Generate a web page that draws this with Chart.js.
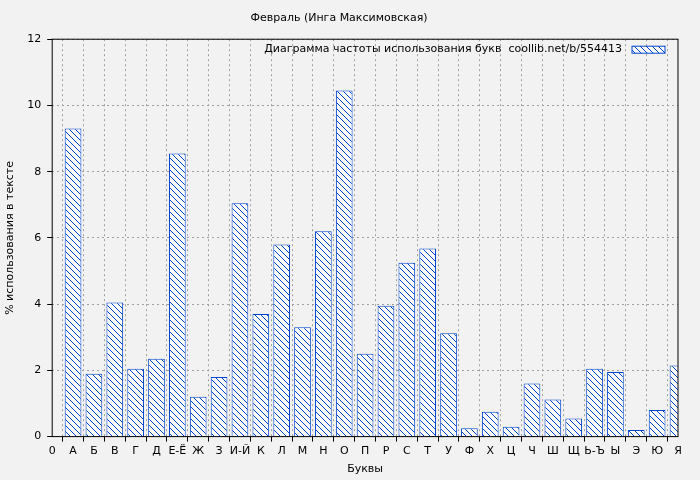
<!DOCTYPE html>
<html>
<head>
<meta charset="utf-8">
<script src="https://cdn.jsdelivr.net/npm/chart.js@4"></script>
<style>
body { margin: 0; background: #f2f2f2; }
#wrap { width: 700px; height: 480px; }
</style>
</head>
<body>
<div id="wrap"><canvas id="chart"></canvas></div>
<script>
const letters = ["0", "А", "Б", "В", "Г", "Д", "Е-Ё", "Ж", "З", "И-Й", "К", "Л", "М", "Н", "О", "П", "Р", "С", "Т", "У", "Ф", "Х", "Ц", "Ч", "Ш", "Щ", "Ь-Ъ", "Ы", "Э", "Ю", "Я"];
const percents = [null, 9.3, 1.9, 4.05, 2.05, 2.35, 8.55, 1.2, 1.8, 7.05, 3.7, 5.8, 3.3, 6.2, 10.45, 2.5, 3.95, 5.25, 5.68, 3.12, 0.25, 0.75, 0.3, 1.6, 1.12, 0.55, 2.05, 1.95, 0.2, 0.8, 2.15];
const yTicks = [0, 2, 4, 6, 8, 10, 12];
const legendText = "Диаграмма частоты использования букв  coollib.net/b/554413";

const FONT = "'DejaVu Sans', sans-serif";
const BLUE = "#0044cc";

// штриховка
function makeHatch() {
    const c = document.createElement("canvas");
    c.width = 6; c.height = 6;
    const g = c.getContext("2d");
    g.fillStyle = "#ffffff";
    g.fillRect(0, 0, 6, 6);
    g.strokeStyle = BLUE;
    g.lineWidth = 1;
    g.beginPath();
    g.moveTo(0, 0); g.lineTo(6, 6);
    g.moveTo(-3, 3); g.lineTo(3, 9);
    g.moveTo(3, -3); g.lineTo(9, 3);
    g.stroke();
    return g.createPattern(c, "repeat");
}
const hatch = makeHatch();

const framePlugin = {
    id: "frame",
    afterDraw(chart) {
        const { ctx, chartArea: a } = chart;
        ctx.save();
        ctx.strokeStyle = "#000";
        ctx.lineWidth = 1;
        ctx.strokeRect(a.left, a.top, a.right - a.left, a.bottom - a.top);
        // легенда
        ctx.font = "11px " + FONT;
        ctx.fillStyle = "#000";
        ctx.textAlign = "right";
        ctx.textBaseline = "middle";
        ctx.fillText(legendText, a.right - 56, a.top + 10);
        ctx.fillStyle = hatch;
        ctx.fillRect(a.right - 46, a.top + 7, 33, 7);
        ctx.strokeStyle = BLUE;
        ctx.strokeRect(a.right - 46, a.top + 7, 33, 7);
        ctx.restore();
    }
};

new Chart(document.getElementById("chart"), {
    type: "bar",
    data: {
        labels: letters,
        datasets: [{
            label: legendText,
            data: percents,
            backgroundColor: hatch,
            borderColor: BLUE,
            borderWidth: 1,
            barPercentage: 0.8,
            categoryPercentage: 1.0
        }]
    },
    options: {
        responsive: true,
        maintainAspectRatio: false,
        animation: false,
        layout: { padding: { left: 0, right: 22, top: 0, bottom: 0 } },
        plugins: {
            legend: { display: false },
            tooltip: { enabled: false },
            title: {
                display: true,
                text: "Февраль (Инга Максимовская)",
                color: "#000",
                font: { family: FONT, size: 11, weight: "normal" },
                padding: { top: 12, bottom: 14 }
            }
        },
        scales: {
            x: {
                offset: false,
                grid: { color: "#a0a0a0", borderDash: [2, 3], drawTicks: true, tickColor: "#000", tickLength: 5 },
                border: { display: false, dash: [2, 3] },
                ticks: { color: "#000", font: { family: FONT, size: 11 }, maxRotation: 0, autoSkip: false },
                title: { display: true, text: "Буквы", color: "#000", font: { family: FONT, size: 11 }, padding: { top: 2 } }
            },
            y: {
                min: 0,
                max: 12,
                afterBuildTicks(s) { s.ticks = yTicks.map(v => ({ value: v })); },
                grid: { color: "#a0a0a0", tickColor: "#000", tickLength: 5 },
                border: { display: false, dash: [2, 3] },
                ticks: { color: "#000", font: { family: FONT, size: 11 }, padding: 6 },
                title: { display: true, text: "% использования в тексте", color: "#000", font: { family: FONT, size: 11 } }
            }
        }
    },
    plugins: [framePlugin]
});
</script>
</body>
</html>
